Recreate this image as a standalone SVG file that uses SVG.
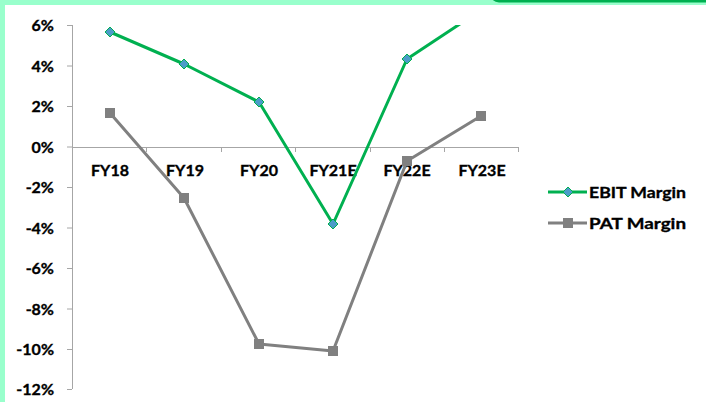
<svg xmlns="http://www.w3.org/2000/svg" width="706" height="402" viewBox="0 0 706 402">
  <style>
    .lbl { font-family: Lato, "Open Sans", "Liberation Sans", sans-serif; font-weight: bold; font-size: 16px; fill: #000; stroke: #000; stroke-width: 0.35px; }
    .ax { stroke: #A6A6A6; stroke-width: 1; fill: none; }
    .ebit { stroke: #00B050; stroke-width: 3; fill: none; stroke-linejoin: round; }
    .pat { stroke: #808080; stroke-width: 3; fill: none; stroke-linejoin: round; }
  </style>
  <defs>
    <clipPath id="plot"><rect x="72" y="25" width="634" height="365"/></clipPath>
    <marker id="dia" viewBox="-6 -6 12 12" markerWidth="12" markerHeight="12" markerUnits="userSpaceOnUse" refX="0" refY="0">
      <path d="M0,-5 L5,0 L0,5 L-5,0 Z" fill="#4B9CC8" stroke="#00B050" stroke-width="1"/>
    </marker>
    <marker id="sq" viewBox="-6 -6 12 12" markerWidth="12" markerHeight="12" markerUnits="userSpaceOnUse" refX="0" refY="0">
      <rect x="-5" y="-5" width="10" height="10" fill="#808080"/>
    </marker>
  </defs>
  <rect width="706" height="402" fill="#FFFFFF"/>
  <g id="frame">
    <rect x="0" y="0" width="706" height="5" fill="#99FFCC"/>
    <rect x="0" y="0" width="5" height="402" fill="#99FFCC"/>
    <rect x="490" y="-20" width="240" height="22.5" rx="9" fill="#00B050"/>
  </g>
  <g id="y-axis">
    <path class="ax" d="M72.5,25 V389 M67,25.5 H72 M67,66 H72 M67,106.5 H72 M67,147 H72 M67,187.5 H72 M67,228 H72 M67,268.5 H72 M67,309 H72 M67,349.5 H72 M67,389.5 H72"/>
    <g class="lbl" text-anchor="end">
      <text x="54" y="31">6%</text>
      <text x="54" y="72">4%</text>
      <text x="54" y="112">2%</text>
      <text x="54" y="153">0%</text>
      <text x="54" y="193">-2%</text>
      <text x="54" y="234">-4%</text>
      <text x="54" y="274">-6%</text>
      <text x="54" y="315">-8%</text>
      <text x="54" y="355">-10%</text>
      <text x="54" y="395">-12%</text>
    </g>
  </g>
  <g id="x-axis">
    <path class="ax" d="M72,147.5 H519 M72.5,147 V152 M146.5,147 V152 M221.5,147 V152 M295.5,147 V152 M370.5,147 V152 M444.5,147 V152 M518.5,147 V152"/>
    <g class="lbl" text-anchor="middle">
      <text x="110" y="176">FY18</text>
      <text x="185" y="176">FY19</text>
      <text x="259" y="176">FY20</text>
      <text x="333" y="176">FY21E</text>
      <text x="407" y="176">FY22E</text>
      <text x="482" y="176">FY23E</text>
    </g>
  </g>
  <g id="connectors">
    <g clip-path="url(#plot)">
      <polyline id="ebit-margin" class="ebit" points="110,32 184,64 259,102 333,224 407,59 481,10" marker-start="url(#dia)" marker-mid="url(#dia)" marker-end="url(#dia)"/>
    </g>
    <polyline id="pat-margin" class="pat" points="110,113 184,198 259,344 333,351 407,161 481,116" marker-start="url(#sq)" marker-mid="url(#sq)" marker-end="url(#sq)"/>
  </g>
  <g id="legend">
    <g id="legend-ebit">
      <line class="ebit" x1="548" y1="192" x2="587" y2="192"/>
      <path d="M568,187 L573,192 L568,197 L563,192 Z" fill="#4B9CC8" stroke="#00B050" stroke-width="1"/>
      <text class="lbl" x="589" y="198" textLength="97" lengthAdjust="spacingAndGlyphs">EBIT Margin</text>
    </g>
    <g id="legend-pat">
      <line class="pat" x1="548" y1="223" x2="587" y2="223"/>
      <rect x="563" y="218" width="10" height="10" fill="#808080"/>
      <text class="lbl" x="589" y="229" textLength="97" lengthAdjust="spacingAndGlyphs">PAT Margin</text>
    </g>
  </g>
</svg>
